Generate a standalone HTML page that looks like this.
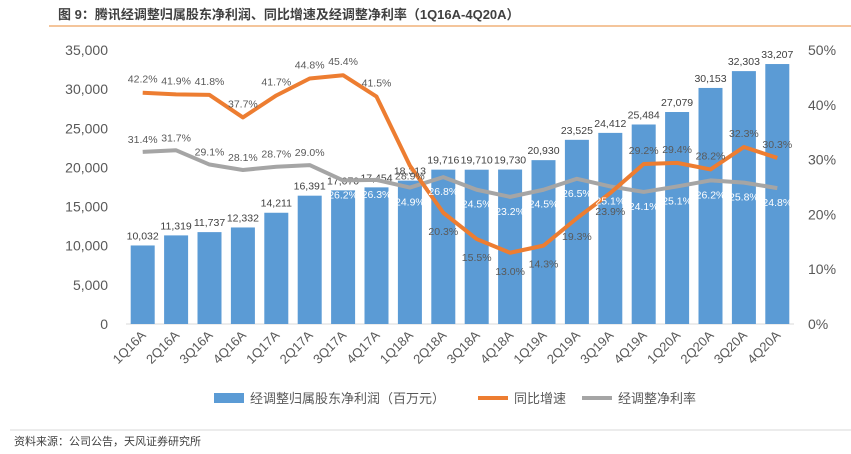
<!DOCTYPE html>
<html><head><meta charset="utf-8"><style>
body{margin:0;background:#fff;width:851px;height:449px;overflow:hidden;font-family:"Liberation Sans","Noto Sans CJK SC",sans-serif}
</style></head><body>
<svg id="c" width="851" height="449" xmlns="http://www.w3.org/2000/svg" style="font-family:'Liberation Sans','Noto Sans CJK SC',sans-serif">
<text x="58" y="19" font-size="13" font-weight="bold" fill="#404040">图 9：腾讯经调整归属股东净利润、同比增速及经调整净利率（1Q16A-4Q20A）</text>
<line x1="49" y1="26" x2="851" y2="26" stroke="#f0b27a" stroke-width="1.5"/>
<line x1="10" y1="430" x2="851" y2="430" stroke="#d9d9d9" stroke-width="1"/>
<text x="14" y="445" font-size="11" fill="#404040">资料来源：公司公告，天风证券研究所</text>
<g id="g"></g>
</svg>
<script>
const categories=["1Q16A","2Q16A","3Q16A","4Q16A","1Q17A","2Q17A","3Q17A","4Q17A","1Q18A","2Q18A","3Q18A","4Q18A","1Q19A","2Q19A","3Q19A","4Q19A","1Q20A","2Q20A","3Q20A","4Q20A"];
const profit=[10032,11319,11737,12332,14211,16391,17070,17454,18313,19716,19710,19730,20930,23525,24412,25484,27079,30153,32303,33207];
const growth=[42.2,41.9,41.8,37.7,41.7,44.8,45.4,41.5,28.9,20.3,15.5,13.0,14.3,19.3,23.9,29.2,29.4,28.2,32.3,30.3];
const margin=[31.4,31.7,29.1,28.1,28.7,29.0,26.2,26.3,24.9,26.8,24.5,23.2,24.5,26.5,25.1,24.1,25.1,26.2,25.8,24.8];
const leftTicks=[0,5000,10000,15000,20000,25000,30000,35000];
const rightTicks=[0,10,20,30,40,50];
const NS="http://www.w3.org/2000/svg";
const g=document.getElementById('g');
const x0=126,x1=794,yb=324,yt=50;
const step=(x1-x0)/categories.length;
const xs=i=>x0+step*(i+0.5);
const yL=v=>yb-(v/35000)*(yb-yt);
const yR=v=>yb-(v/50)*(yb-yt);
function el(t,a,txt){const e=document.createElementNS(NS,t);for(const k in a)e.setAttribute(k,a[k]);if(txt!==undefined)e.textContent=txt;g.appendChild(e);return e;}
leftTicks.forEach(v=>{const e=el('text',{x:108,y:yL(v)+5,'font-size':14,fill:'#595959','text-anchor':'end'},v.toLocaleString('en-US'));

});
rightTicks.forEach(v=>{const e=el('text',{x:808,y:yR(v)+5,'font-size':14,fill:'#595959'},v+'%');

});
const ax=el('line',{x1:x0,y1:yb,x2:x1,y2:yb,stroke:'#d9d9d9'});


profit.forEach((v,i)=>{
 const r=el('rect',{x:xs(i)-12,y:yL(v),width:24,height:yb-yL(v),fill:'#5b9bd5'});
 
 
 const t=el('text',{x:xs(i),y:yL(v)-6,'font-size':10.5,fill:'#404040','text-anchor':'middle'},v.toLocaleString('en-US'));
 
 
 const c=el('text',{'font-size':13,fill:'#595959','text-anchor':'end',transform:`translate(${xs(i)+4},${yb+12}) rotate(-45)`},categories[i]);
 
 
});
function line(arr,col,name){
 const p=el('polyline',{points:arr.map((v,i)=>xs(i)+','+yR(v)).join(' '),fill:'none',stroke:col,'stroke-width':4,'stroke-linejoin':'round'});
 
 
}
line(margin,'#a5a5a5','margin-line');
line(growth,'#ed7d31','growth-line');
margin.forEach((v,i)=>{
 const up=i<6;
 const t=el('text',{x:xs(i),y:up?yR(v)-9:yR(v)+18,'font-size':10.5,fill:up?'#595959':'#ffffff','text-anchor':'middle'},v.toFixed(1)+'%');
 
 
});
growth.forEach((v,i)=>{
 const below=(i>=8&&i<=14);
 const t=el('text',{x:xs(i),y:below?yR(v)+(i==8?14:22):yR(v)-10,'font-size':10.5,fill:'#595959','text-anchor':'middle'},v.toFixed(1)+'%');
 
 
});
const lg=[['rect','#5b9bd5','经调整归属股东净利润（百万元）',214],['line','#ed7d31','同比增速',478],['line','#a5a5a5','经调整净利率',582]];
lg.forEach(([k,c,txt,x])=>{
 if(k==='rect'){const r=el('rect',{x:x,y:393,width:30,height:10,fill:c});}
 else{const l=el('line',{x1:x,y1:398,x2:x+30,y2:398,stroke:c,'stroke-width':4});}
 const t=el('text',{x:x+36,y:403,'font-size':13,fill:'#595959'},txt);
 
 
});
</script>
</body></html>
